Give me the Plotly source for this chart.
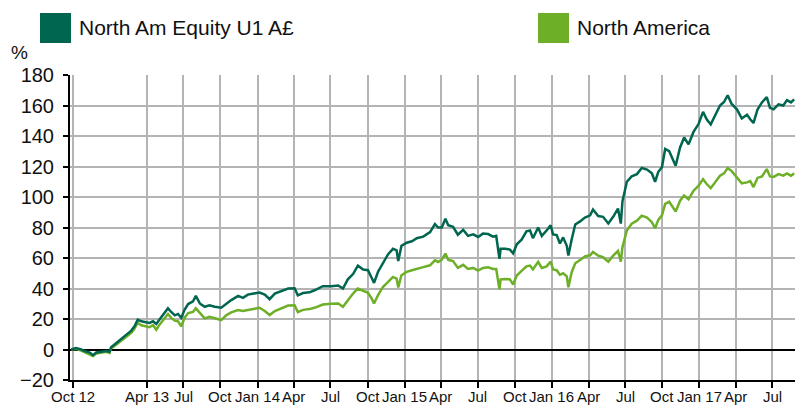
import plotly.graph_objects as go

# Cumulative performance (%) of the fund and its sector average
dates = [
    "2012-09-26", "2012-10-08", "2012-10-21", "2012-10-29", "2012-11-11", "2012-11-19",
    "2012-11-27", "2012-12-09", "2012-12-22", "2012-12-30", "2013-01-03", "2013-01-16",
    "2013-01-28", "2013-02-09", "2013-02-22", "2013-03-02", "2013-03-10", "2013-03-19",
    "2013-03-29", "2013-04-08", "2013-04-17", "2013-04-25", "2013-05-03", "2013-05-16",
    "2013-05-24", "2013-06-01", "2013-06-10", "2013-06-18", "2013-06-26", "2013-07-04",
    "2013-07-13", "2013-07-25", "2013-08-01", "2013-08-11", "2013-08-23", "2013-09-04",
    "2013-09-17", "2013-10-03", "2013-10-16", "2013-10-28", "2013-11-14", "2013-11-26",
    "2013-12-08", "2013-12-24", "2014-01-06", "2014-01-19", "2014-01-31", "2014-02-13",
    "2014-03-01", "2014-03-18", "2014-04-03", "2014-04-11", "2014-04-24", "2014-05-10",
    "2014-05-24", "2014-06-12", "2014-07-03", "2014-07-20", "2014-08-01", "2014-08-13",
    "2014-08-26", "2014-09-07", "2014-09-20", "2014-10-02", "2014-10-11", "2014-10-17",
    "2014-10-27", "2014-11-08", "2014-11-21", "2014-12-03", "2014-12-12", "2014-12-16",
    "2014-12-24", "2015-01-06", "2015-01-19", "2015-01-31", "2015-02-16", "2015-03-05",
    "2015-03-17", "2015-03-25", "2015-04-03", "2015-04-12", "2015-04-19", "2015-05-01",
    "2015-05-13", "2015-05-26", "2015-06-07", "2015-06-20", "2015-07-02", "2015-07-14",
    "2015-07-27", "2015-08-08", "2015-08-16", "2015-08-24", "2015-08-27", "2015-09-07",
    "2015-09-19", "2015-09-27", "2015-10-06", "2015-10-18", "2015-10-30", "2015-11-08",
    "2015-11-15", "2015-11-28", "2015-12-07", "2015-12-19", "2015-12-29", "2016-01-04",
    "2016-01-13", "2016-01-21", "2016-01-29", "2016-02-07", "2016-02-11", "2016-02-19",
    "2016-02-28", "2016-03-11", "2016-03-23", "2016-04-05", "2016-04-12", "2016-04-25",
    "2016-05-07", "2016-05-20", "2016-06-01", "2016-06-13", "2016-06-20", "2016-06-24",
    "2016-07-05", "2016-07-17", "2016-07-30", "2016-08-11", "2016-08-24", "2016-09-05",
    "2016-09-13", "2016-09-21", "2016-09-30", "2016-10-08", "2016-10-18", "2016-11-03",
    "2016-11-14", "2016-11-24", "2016-12-05", "2016-12-17", "2016-12-30", "2017-01-10",
    "2017-01-19", "2017-01-29", "2017-02-09", "2017-02-21", "2017-03-03", "2017-03-12",
    "2017-03-22", "2017-04-04", "2017-04-16", "2017-04-29", "2017-05-07", "2017-05-15",
    "2017-05-25", "2017-06-05", "2017-06-17", "2017-06-25", "2017-07-04", "2017-07-16",
    "2017-07-28", "2017-08-06", "2017-08-16", "2017-08-24",
]

north_am_equity = [
    0.0, 1.0, 0.0, -1.0, -2.0, -3.7,
    -2.0, -1.5, -1.0, -1.5, 1.5, 4.3,
    7.0, 9.3, 12.4, 15.2, 19.6, 18.5,
    17.8, 17.4, 18.5, 16.7, 19.6, 24.0,
    27.0, 24.6, 22.4, 23.3, 20.7, 26.0,
    29.8, 31.5, 35.2, 30.2, 28.0, 29.0,
    28.0, 27.4, 30.2, 32.4, 35.2, 33.9,
    36.0, 36.7, 37.4, 36.0, 33.0, 36.7,
    38.3, 40.0, 40.2, 35.5, 37.0, 37.5,
    39.0, 41.5, 41.5, 42.0, 40.0, 46.0,
    49.5, 55.0, 52.5, 52.0, 47.0, 43.7,
    51.0, 57.0, 62.5, 66.0, 65.0, 58.0,
    68.0, 70.0, 71.0, 73.0, 74.0, 77.0,
    82.3, 80.0, 80.0, 85.8, 81.5, 80.5,
    75.3, 78.5, 74.5, 75.5, 73.8, 76.0,
    75.7, 74.0, 74.6, 59.5, 66.0, 66.0,
    65.5, 63.0, 69.0, 72.0, 77.5, 78.0,
    73.0, 80.0, 74.5, 78.0, 81.5, 75.5,
    75.0, 69.5, 73.5, 68.0, 61.6, 72.0,
    82.0, 84.0, 86.5, 88.0, 91.8, 87.5,
    87.0, 82.6, 87.0, 92.4, 82.6, 97.0,
    110.0, 113.5, 115.0, 119.0, 118.0, 115.5,
    110.0, 116.5, 119.5, 131.5, 130.0, 120.5,
    132.5, 139.0, 134.5, 142.5, 148.0, 155.8,
    151.0, 147.6, 153.5, 160.0, 162.3, 166.7,
    161.0, 157.5, 151.5, 154.0, 151.0, 148.5,
    157.4, 162.0, 165.5, 158.5, 157.5, 160.8,
    160.0, 163.5, 162.0, 164.0,
]

north_america = [
    0.0, 0.4, -0.7, -1.7, -2.8, -4.3,
    -2.6, -2.2, -1.5, -2.2, 0.7, 3.3,
    5.9, 8.0, 10.9, 13.7, 17.4, 15.9,
    15.2, 14.6, 15.9, 13.0, 16.3, 20.2,
    23.3, 20.7, 18.9, 18.5, 15.2, 20.7,
    23.9, 24.6, 27.0, 24.0, 20.4, 21.5,
    20.4, 19.3, 22.6, 24.3, 25.9, 25.2,
    25.9, 27.0, 27.4, 25.2, 22.6, 25.2,
    27.0, 28.8, 29.0, 24.5, 26.0, 26.5,
    27.5, 29.5, 30.0, 30.2, 28.0, 32.4,
    36.7, 40.0, 38.5, 37.2, 33.5, 30.2,
    35.7, 41.0, 44.3, 47.6, 46.5, 40.7,
    48.7, 50.9, 52.0, 53.0, 54.0, 55.2,
    58.5, 57.4, 59.0, 62.9, 58.8, 58.0,
    53.5, 55.5, 52.8, 53.5, 51.7, 53.5,
    53.9, 52.8, 52.8, 39.4, 46.0, 46.3,
    46.0, 42.6, 48.5, 51.5, 54.5, 55.0,
    52.5, 57.5, 53.5, 54.5, 57.6, 52.5,
    52.0, 49.0, 50.0, 48.0, 40.8, 50.5,
    56.5, 58.7, 61.0, 61.8, 64.0, 61.5,
    60.5, 57.6, 61.5, 64.6, 57.6, 67.0,
    78.0, 82.5, 84.5, 87.8, 86.5, 83.5,
    79.5, 85.0, 88.0, 95.5, 97.0, 90.5,
    97.6, 101.0, 98.5, 104.0, 107.4, 111.7,
    108.5, 105.8, 110.0, 114.0, 115.5, 119.0,
    117.0, 113.0, 109.0, 109.6, 110.5, 106.5,
    112.5, 113.5, 118.3, 113.5, 113.2, 115.0,
    114.0, 115.5, 114.0, 115.5,
]

tick_dates = [
    "2012-10-01", "2013-04-01", "2013-07-01", "2013-10-01", "2014-01-01",
    "2014-04-01", "2014-07-01", "2014-10-01", "2015-01-01", "2015-04-01",
    "2015-07-01", "2015-10-01", "2016-01-01", "2016-04-01", "2016-07-01",
    "2016-10-01", "2017-01-01", "2017-04-01", "2017-07-01",
]
tick_labels = [
    "Oct 12", "Apr 13", "Jul", "Oct", "Jan 14", "Apr", "Jul", "Oct", "Jan 15",
    "Apr", "Jul", "Oct", "Jan 16", "Apr", "Jul", "Oct", "Jan 17", "Apr", "Jul",
]

series_names = ["North Am Equity U1 A£", "North America"]

DARK = "#00664F"
LIGHT = "#6DAF27"
GRID = "#B4B4B4"
TEXT = "#111111"
FONT = "Arial, Liberation Sans, sans-serif"

W, H = 795, 405
ML, MR, MT, MB = 70, 0, 75, 25


def px_x(x):
    return (x - ML) / (W - ML - MR)


def px_y(y):
    return (H - MB - y) / (H - MT - MB)


fig = go.Figure()
fig.add_trace(go.Scatter(x=dates, y=north_america, mode="lines",
                         line=dict(color=LIGHT, width=2.5), name=series_names[1],
                         showlegend=False))
fig.add_trace(go.Scatter(x=dates, y=north_am_equity, mode="lines",
                         line=dict(color=DARK, width=2.5), name=series_names[0],
                         showlegend=False))

# Legend drawn as coloured squares with labels across the top
shapes = []
annotations = []
for (x0, color, label) in [(40, DARK, series_names[0]), (538, LIGHT, series_names[1])]:
    shapes.append(dict(type="rect", xref="paper", yref="paper",
                       x0=px_x(x0), x1=px_x(x0 + 31), y0=px_y(43), y1=px_y(13),
                       fillcolor=color, line=dict(width=0)))
    annotations.append(dict(xref="paper", yref="paper", x=px_x(x0 + 37), y=px_y(28),
                            xanchor="left", yanchor="middle", text=label, showarrow=False,
                            font=dict(family=FONT, size=21, color=TEXT)))

annotations.append(dict(xref="paper", yref="paper", x=px_x(9), y=px_y(52),
                        xanchor="left", yanchor="middle", text="%", showarrow=False,
                        font=dict(family=FONT, size=19, color=TEXT)))

# Date labels under the ticks, placed close to the axis
for d, lab in zip(tick_dates, tick_labels):
    annotations.append(dict(xref="x", yref="paper", x=d, y=px_y(396),
                            xanchor="center", yanchor="middle", text=lab, showarrow=False,
                            font=dict(family=FONT, size=15, color=TEXT)))

fig.update_layout(
    width=W, height=H,
    margin=dict(l=ML, r=MR, t=MT, b=MB, autoexpand=False),
    paper_bgcolor="white", plot_bgcolor="white",
    font=dict(family=FONT, color=TEXT),
    shapes=shapes, annotations=annotations,
    showlegend=False,
)
fig.update_xaxes(
    type="date", range=["2012-09-23", "2017-08-26"],
    tickmode="array", tickvals=tick_dates, showticklabels=False,
    showgrid=True, gridcolor=GRID, gridwidth=2,
    showline=True, linecolor="black", linewidth=2,
    ticks="outside", ticklen=6, tickwidth=2, tickcolor="black",
    automargin=False,
)
fig.update_yaxes(
    range=[-20, 180], dtick=20, tick0=0,
    showgrid=True, gridcolor=GRID, gridwidth=2,
    zeroline=True, zerolinecolor="black", zerolinewidth=2,
    showline=True, linecolor="black", linewidth=2,
    ticks="outside", ticklen=5, tickwidth=2, tickcolor="black",
    tickfont=dict(family=FONT, size=20, color=TEXT),
    ticklabelstandoff=5,
    automargin=False,
)

fig.write_html("out.html")
